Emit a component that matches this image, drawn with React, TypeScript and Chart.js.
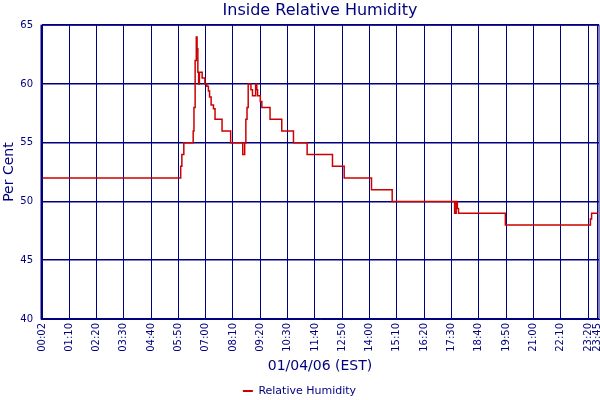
import React, { useEffect, useRef } from 'react';
import { Chart, registerables } from 'chart.js';

Chart.register(...registerables);

const TITLE = 'Inside Relative Humidity';
const X_TITLE = '01/04/06 (EST)';
const Y_TITLE = 'Per Cent';
const SERIES_NAME = 'Relative Humidity';

// Times (HH:MM) at which the reading changes, and the reading from that time on
const times = [
  '00:02', '05:56', '05:59', '06:04', '06:28', '06:30', '06:33', '06:36', '06:38', '06:40',
  '06:42', '06:44', '06:51', '06:58', '07:03', '07:07', '07:10', '07:14', '07:20', '07:24',
  '07:42', '08:04', '08:35', '08:40', '08:43', '08:46', '08:49', '08:56', '09:00', '09:08',
  '09:11', '09:13', '09:20', '09:24', '09:45', '10:15', '10:45', '11:20', '12:25', '12:55',
  '14:05', '14:58', '17:38', '17:42', '17:45', '17:48', '19:48', '23:26', '23:29', '23:45',
];
const humidity = [
  52, 53, 54, 55, 56, 58, 62, 64, 63, 61,
  60, 61, 60.5, 60, 59.8, 59.4, 58.9, 58.2, 57.9, 57,
  56, 55, 54, 55, 57, 58, 60, 59.5, 59, 60,
  59.5, 59, 58.5, 58, 57, 56, 55, 54, 53, 52,
  51, 50, 49, 50, 49.4, 49, 48, 48.5, 49, 49,
];

const xTickLabels = [
  '00:02', '01:10', '02:20', '03:30', '04:40', '05:50', '07:00', '08:10', '09:20', '10:30',
  '11:40', '12:50', '14:00', '15:10', '16:20', '17:30', '18:40', '19:50', '21:00', '22:10',
  '23:20', '23:45',
];
const yTicks = [40, 45, 50, 55, 60, 65];

const NAVY = '#000080';
const RED = '#cc0000';
const FONT = 'DejaVu Sans';

const toMin = (s: string) => {
  const [h, m] = s.split(':').map(Number);
  return h * 60 + m;
};
const fmt = (v: number) => {
  const h = Math.floor(v / 60);
  const m = Math.round(v - h * 60);
  return String(h).padStart(2, '0') + ':' + String(m).padStart(2, '0');
};

const framePlugin = {
  id: 'frame',
  beforeDatasetsDraw(chart: any) {
    const { ctx, chartArea } = chart;
    ctx.save();
    ctx.strokeStyle = NAVY;
    ctx.lineWidth = 1;
    ctx.strokeRect(chartArea.left, chartArea.top, chartArea.right - chartArea.left, chartArea.bottom - chartArea.top);
    ctx.restore();
  },
};

export default function App() {
  const ref = useRef<HTMLCanvasElement | null>(null);

  useEffect(() => {
    if (!ref.current) return;
    const data = times.map((t, i) => ({ x: toMin(t), y: humidity[i] }));
    const chart = new Chart(ref.current, {
      type: 'line',
      data: {
        datasets: [
          {
            label: SERIES_NAME,
            data,
            borderColor: RED,
            backgroundColor: RED,
            borderWidth: 1.5,
            pointRadius: 0,
            stepped: true,
            fill: false,
          },
        ],
      },
      options: {
        animation: false,
        responsive: false,
        maintainAspectRatio: false,
        layout: { padding: { left: 0, right: 1, top: 0, bottom: 0 } },
        plugins: {
          title: {
            display: true,
            text: TITLE,
            fullSize: false,
            color: NAVY,
            font: { family: FONT, size: 16, weight: 'normal' },
            padding: { top: 1, bottom: 5 },
          },
          legend: {
            position: 'bottom',
            maxHeight: 24.5,
            labels: {
              color: NAVY,
              font: { family: FONT, size: 11 },
              boxWidth: 10,
              boxHeight: 2,
              padding: 10,
              generateLabels: (c: any) =>
                (Chart.defaults.plugins.legend.labels.generateLabels as any)(c).map((it: any) => ({
                  ...it,
                  lineWidth: 0,
                  fillStyle: RED,
                })),
            },
          },
          tooltip: { enabled: false },
        },
        scales: {
          x: {
            type: 'linear',
            min: -2,
            max: 1428,
            afterBuildTicks: (scale: any) => {
              scale.ticks = xTickLabels.map((l) => ({ value: toMin(l) }));
            },
            afterFit: (scale: any) => {
              scale.height = 56.5;
              scale.paddingLeft = 0;
              scale.paddingRight = 0;
            },
            grid: { color: NAVY, lineWidth: 1, drawTicks: false },
            border: { display: true, color: NAVY },
            ticks: {
              autoSkip: false,
              minRotation: 90,
              maxRotation: 90,
              padding: 4,
              color: NAVY,
              font: { family: FONT, size: 10 },
              callback: (v: any) => fmt(Number(v)),
            },
            title: {
              display: true,
              text: X_TITLE,
              color: NAVY,
              font: { family: FONT, size: 14 },
              padding: { top: 0, bottom: 1 },
            },
          },
          y: {
            type: 'linear',
            min: 40,
            max: 65,
            afterBuildTicks: (scale: any) => {
              scale.ticks = yTicks.map((v) => ({ value: v }));
            },
            afterFit: (scale: any) => {
              scale.width = 41;
            },
            grid: { color: NAVY, lineWidth: 1.5, drawTicks: false },
            border: { display: true, color: NAVY },
            ticks: {
              padding: 8,
              color: NAVY,
              font: { family: FONT, size: 10 },
            },
            title: {
              display: true,
              text: Y_TITLE,
              color: NAVY,
              font: { family: FONT, size: 14 },
              padding: { top: 1, bottom: 0 },
            },
          },
        },
      } as any,
      plugins: [framePlugin],
    });
    return () => chart.destroy();
  }, []);

  return (
    <div style={{ position: 'fixed', left: 0, top: 0, width: 600, height: 400, background: '#fff' }}>
      <canvas ref={ref} width={600} height={400} style={{ display: 'block', width: 600, height: 400 }} />
    </div>
  );
}
